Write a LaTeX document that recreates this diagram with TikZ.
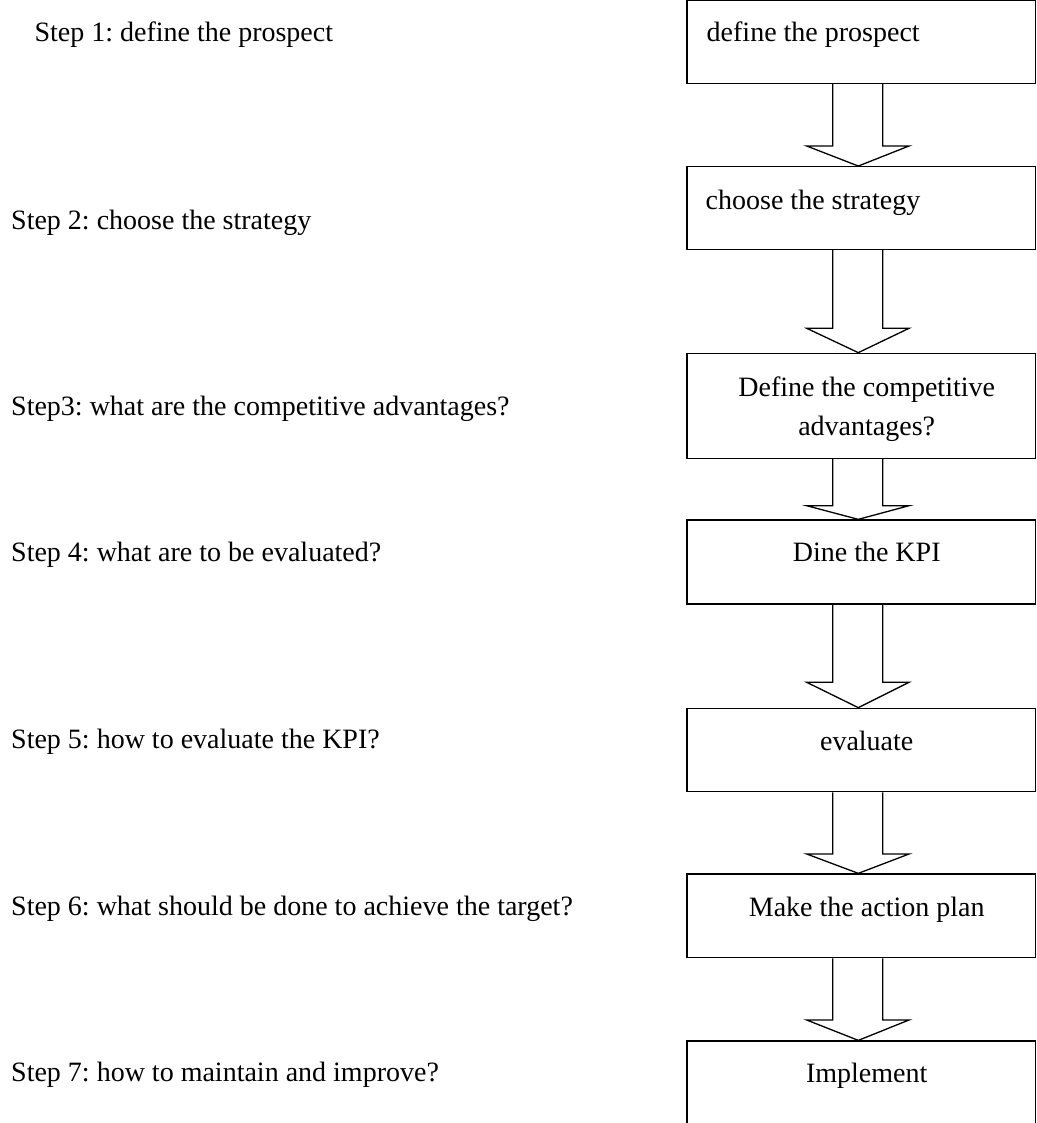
\documentclass[tikz,border=0pt]{standalone}
\usepackage{fontspec}
\setmainfont{Liberation Serif}
\usetikzlibrary{calc}
\frenchspacing
\begin{document}
\begin{tikzpicture}[x=1pt,y=-1pt,
  box/.style={draw, line width=1.3pt, inner sep=0pt, minimum width=348.5pt},
  txt/.style={inner sep=0pt, font=\fontsize{28}{34}\selectfont},
  blk/.style={draw, line width=1.3pt, line join=miter}]
\useasboundingbox (0,0) rectangle (1036,1123);
\clip (0,0) rectangle (1036,1123);
% boxes
\node[box, minimum height=82.8pt] (b1) at (861.25,41.9) {};
\node[box, minimum height=82.6pt] (b2) at (861.25,208) {};
\node[box, minimum height=105pt] (b3) at (861.25,405.8) {};
\node[box, minimum height=84pt] (b4) at (861.25,562) {};
\node[box, minimum height=83.4pt] (b5) at (861.25,750) {};
\node[box, minimum height=83.7pt] (b6) at (861.25,915.85) {};
\node[box, minimum height=89pt] (b7) at (861.25,1085.5) {};
% box texts
\node[txt, anchor=base west] (t1) at (706.5,41.7) {define the prospect};
\node[txt, anchor=base west] (t2) at (705.5,210) {choose the strategy};
\node[txt, anchor=base] (t3a) at (866.7,396.7) {Define the competitive};
\node[txt, anchor=base] (t3b) at (866.7,435) {advantages?};
\node[txt, anchor=base] (t4) at (866.7,561.7) {Dine the KPI};
\node[txt, anchor=base] (t5) at (866.7,750) {evaluate};
\node[txt, anchor=base] (t6) at (866.7,916) {Make the action plan};
\node[txt, anchor=base] (t7) at (866.7,1082.7) {Implement};
% step texts
\node[txt, anchor=base west] (s1) at (34.3,41.7) {Step 1: define the prospect};
\node[txt, anchor=base west] (s2) at (11,229.3) {Step 2: choose the strategy};
\node[txt, anchor=base west] (s3) at (11,415.7) {Step3: what are the competitive advantages?};
\node[txt, anchor=base west] (s4) at (11,561.7) {Step 4: what are to be evaluated?};
\node[txt, anchor=base west] (s5) at (11,748.3) {Step 5: how to evaluate the KPI?};
\node[txt, anchor=base west] (s6) at (11,915) {Step 6: what should be done to achieve the target?};
\node[txt, anchor=base west] (s7) at (11,1081) {Step 7: how to maintain and improve?};
% arrow geometry
\coordinate (aL) at (832.7,0);
\coordinate (aR) at (882.7,0);
\coordinate (wL) at (806.7,0);
\coordinate (wR) at (909,0);
\coordinate (tp) at (858.3,0);
\coordinate (h1) at (0,146);
\coordinate (h2) at (0,328.3);
\coordinate (h3) at (0,505.7);
\coordinate (h4) at (0,682.3);
\coordinate (h5) at (0,854);
\coordinate (h6) at (0,1020);
\newcommand{\blockarrow}[3]{%
  \draw[blk] (aL |- #1.south) -- (aL |- #3) -- (wL |- #3) -- (tp |- #2.north)
    -- (wR |- #3) -- (aR |- #3) -- (aR |- #1.south);}
\blockarrow{b1}{b2}{h1}
\blockarrow{b2}{b3}{h2}
\blockarrow{b3}{b4}{h3}
\blockarrow{b4}{b5}{h4}
\blockarrow{b5}{b6}{h5}
\blockarrow{b6}{b7}{h6}
\end{tikzpicture}
\end{document}
